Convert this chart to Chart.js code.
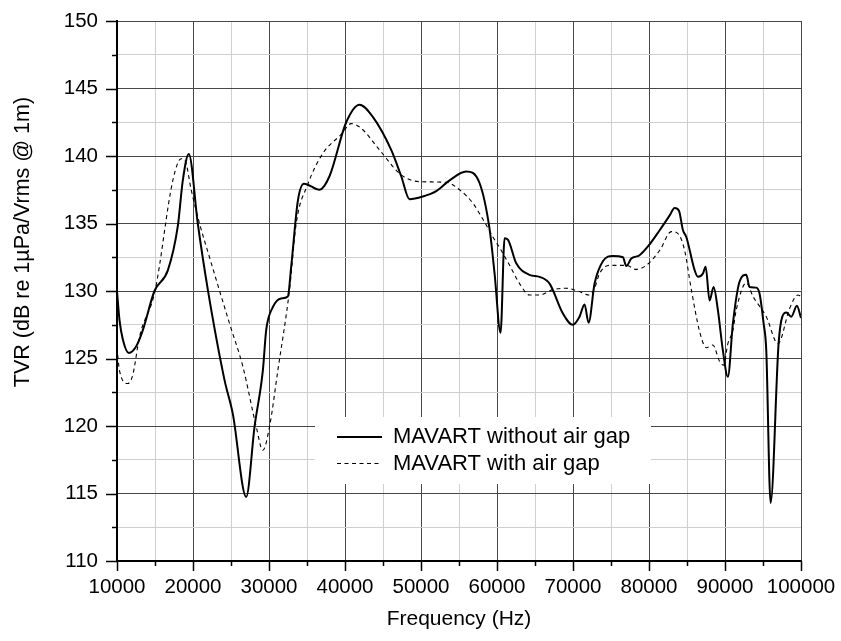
<!DOCTYPE html>
<html>
<head>
<meta charset="utf-8">
<script src="https://cdn.jsdelivr.net/npm/chart.js@4/dist/chart.umd.min.js"></script>
<style>
  html, body { margin: 0; padding: 0; background: #fff; }
  #wrap { width: 841px; height: 641px; }
</style>
</head>
<body>
<div id="wrap"><canvas id="c" width="841" height="641"></canvas></div>
<script>
// ---- Data ----
const freqNoGap = [10000,10330,10770,11550,12530,13400,14930,16700,18000,18660,19450,20630,21950,24150,25240,27000,28100,29190,29630,30500,31600,32480,32920,33800,34600,36650,37960,40160,41910,43660,46080,47400,48490,50240,52000,53760,55950,57700,59020,59680,60470,61000,61430,62530,64280,65600,66920,68660,69980,70860,71520,72050,72840,73930,75250,76570,77010,77670,78760,79860,81400,82720,83370,83940,84470,84910,86000,86440,87100,87450,87970,88500,89060,89720,90380,91040,91920,92800,93230,94110,94550,95080,95430,96000,97050,97540,98070,98720,99460,100000];
const tvrNoGap  = [130.0,127.85,126.4,125.4,125.9,127.1,130.0,131.55,134.8,138.2,140.15,135.0,130.1,123.4,120.9,114.75,119.95,124.1,127.1,128.8,129.45,129.6,131.8,136.7,137.95,137.5,138.5,142.5,143.8,142.9,140.45,138.5,136.8,137.0,137.4,138.2,138.85,138.0,134.6,131.3,126.9,133.9,133.8,132.05,131.2,131.05,130.55,128.35,127.5,128.1,129.0,127.65,130.55,132.2,132.6,132.5,131.85,132.4,132.65,133.3,134.5,135.6,136.15,135.95,134.5,134.0,131.55,131.05,131.3,131.8,129.3,130.3,128.6,125.6,123.65,127.6,130.7,131.2,130.3,130.25,129.8,127.6,125.6,114.3,126.1,128.1,128.4,128.1,128.9,128.0];

const freqGap = [10000,10330,11420,12080,12960,15000,17350,18450,19000,19760,20860,22170,24800,26560,28320,29190,30070,31160,32700,33580,35100,37100,39500,40820,42140,44540,47400,49800,53310,55070,56830,58370,59460,60560,61660,62970,64280,65600,67350,69110,70640,72180,72840,73500,74810,77010,78330,79640,81400,82940,83810,84690,85570,86660,87540,88400,89280,89810,90380,91040,91480,92800,93680,95430,96970,98500,99590,100000];
const tvrGap  = [125.8,124.1,123.15,123.8,126.6,130.0,138.2,139.8,139.6,137.5,135.0,132.5,127.6,124.4,119.95,118.2,119.95,124.1,130.1,135.0,137.9,140.2,141.6,142.4,142.05,140.45,138.6,138.1,138.05,137.5,136.5,135.1,134.0,133.0,131.9,130.55,129.7,129.7,130.1,130.2,130.0,129.7,130.2,131.3,131.9,131.9,131.6,131.9,133.0,134.4,134.25,133.0,130.1,127.0,125.8,126.0,124.8,124.5,126.1,127.1,128.6,130.6,129.6,128.1,126.1,128.7,129.7,129.6];

const seriesNames = ['MAVART without air gap', 'MAVART with air gap'];
const xTitle = 'Frequency (Hz)';
const yTitle = 'TVR (dB re 1\u00B5Pa/Vrms @ 1m)';
const xMin = 10000, xMax = 100000, xStep = 5000, xLabelStep = 10000;
const yMin = 110, yMax = 150, yStep = 2.5, yLabelStep = 5;

const FONT = '"Liberation Sans", Arial, Helvetica, sans-serif';

function pts(xs, ys) { return xs.map((x, i) => ({ x: x, y: ys[i] })); }
function isMajor(v, step) { return Math.abs(v / step - Math.round(v / step)) < 1e-6; }

const decor = {
  id: 'decor',
  beforeDatasetsDraw(chart) {
    const ctx = chart.ctx;
    ctx.save();
    ctx.fillStyle = '#ffffff';
    ctx.fillRect(315, 417, 336, 67);
    ctx.restore();
  },
  afterDraw(chart) {
    const ctx = chart.ctx;
    const xs = chart.scales.x, ys = chart.scales.y;
    const a = chart.chartArea;
    ctx.save();
    ctx.strokeStyle = '#000';
    ctx.lineWidth = 1.5;
    xs.ticks.forEach(t => {
      const px = Math.round(xs.getPixelForValue(t.value)) + 0.5;
      const len = isMajor(t.value, xLabelStep) ? 10 : 5;
      ctx.beginPath(); ctx.moveTo(px, a.bottom); ctx.lineTo(px, a.bottom + len); ctx.stroke();
    });
    ys.ticks.forEach(t => {
      const py = Math.round(ys.getPixelForValue(t.value)) + 0.5;
      const len = isMajor(t.value, yLabelStep) ? 11 : 5;
      ctx.beginPath(); ctx.moveTo(a.left, py); ctx.lineTo(a.left - len, py); ctx.stroke();
    });
    // legend
    ctx.fillStyle = '#000';
    ctx.font = '22px ' + FONT;
    ctx.textBaseline = 'middle';
    ctx.textAlign = 'left';
    ctx.lineWidth = 2;
    ctx.setLineDash([]);
    ctx.beginPath(); ctx.moveTo(337, 437); ctx.lineTo(382, 437); ctx.stroke();
    ctx.fillText(seriesNames[0], 393, 437);
    ctx.lineWidth = 1.1;
    ctx.setLineDash([4, 3.5]);
    ctx.beginPath(); ctx.moveTo(337, 463.5); ctx.lineTo(382, 463.5); ctx.stroke();
    ctx.setLineDash([]);
    ctx.fillText(seriesNames[1], 393, 463.5);
    // axis titles
    ctx.textAlign = 'center';
    ctx.font = '21px ' + FONT;
    ctx.fillText(xTitle, (a.left + a.right) / 2, 619);
    ctx.font = '21.5px ' + FONT;
    ctx.translate(23, 242);
    ctx.rotate(-Math.PI / 2);
    ctx.fillText(yTitle, 0, 0);
    ctx.restore();
  }
};

new Chart(document.getElementById('c'), {
  type: 'line',
  data: {
    datasets: [
      {
        label: seriesNames[0],
        data: pts(freqNoGap, tvrNoGap),
        borderColor: '#000',
        borderWidth: 2,
        pointRadius: 0,
        fill: false,
        cubicInterpolationMode: 'monotone'
      },
      {
        label: seriesNames[1],
        data: pts(freqGap, tvrGap),
        borderColor: '#000',
        borderWidth: 1.1,
        borderDash: [4, 3.5],
        pointRadius: 0,
        fill: false,
        cubicInterpolationMode: 'monotone'
      }
    ]
  },
  options: {
    responsive: false,
    animation: false,
    devicePixelRatio: 1,
    layout: { padding: { left: 0, right: 40, top: 21, bottom: 0 } },
    plugins: { legend: { display: false }, tooltip: { enabled: false } },
    scales: {
      x: {
        type: 'linear',
        min: xMin, max: xMax,
        afterFit(s) { s.height = 80; s.paddingLeft = 0; s.paddingRight = 0; },
        afterBuildTicks(s) {
          const t = [];
          for (let v = xMin; v <= xMax + 1e-9; v += xStep) t.push({ value: v });
          s.ticks = t;
        },
        ticks: {
          autoSkip: false, maxRotation: 0, minRotation: 0,
          padding: 14,
          color: '#000',
          font: { family: FONT, size: 20.5 },
          callback: v => isMajor(v, xLabelStep) ? String(v) : ''
        },
        grid: {
          drawTicks: false,
          lineWidth: 1,
          color: c => (c.tick && isMajor(c.tick.value, xLabelStep)) ? '#474747' : '#cfcfcf'
        },
        border: { display: true, color: '#000', width: 2 }
      },
      y: {
        type: 'linear',
        min: yMin, max: yMax,
        afterFit(s) { s.width = 117; s.paddingTop = 0; s.paddingBottom = 0; },
        afterBuildTicks(s) {
          const t = [];
          for (let v = yMin; v <= yMax + 1e-9; v += yStep) t.push({ value: v });
          s.ticks = t;
        },
        ticks: {
          autoSkip: false,
          padding: 19,
          color: '#000',
          font: { family: FONT, size: 20.5 },
          callback: v => isMajor(v, yLabelStep) ? String(v) : ''
        },
        grid: {
          drawTicks: false,
          lineWidth: 1,
          color: c => (c.tick && isMajor(c.tick.value, yLabelStep)) ? '#474747' : '#cfcfcf'
        },
        border: { display: true, color: '#000', width: 2 }
      }
    }
  },
  plugins: [decor]
});
</script>
</body>
</html>
